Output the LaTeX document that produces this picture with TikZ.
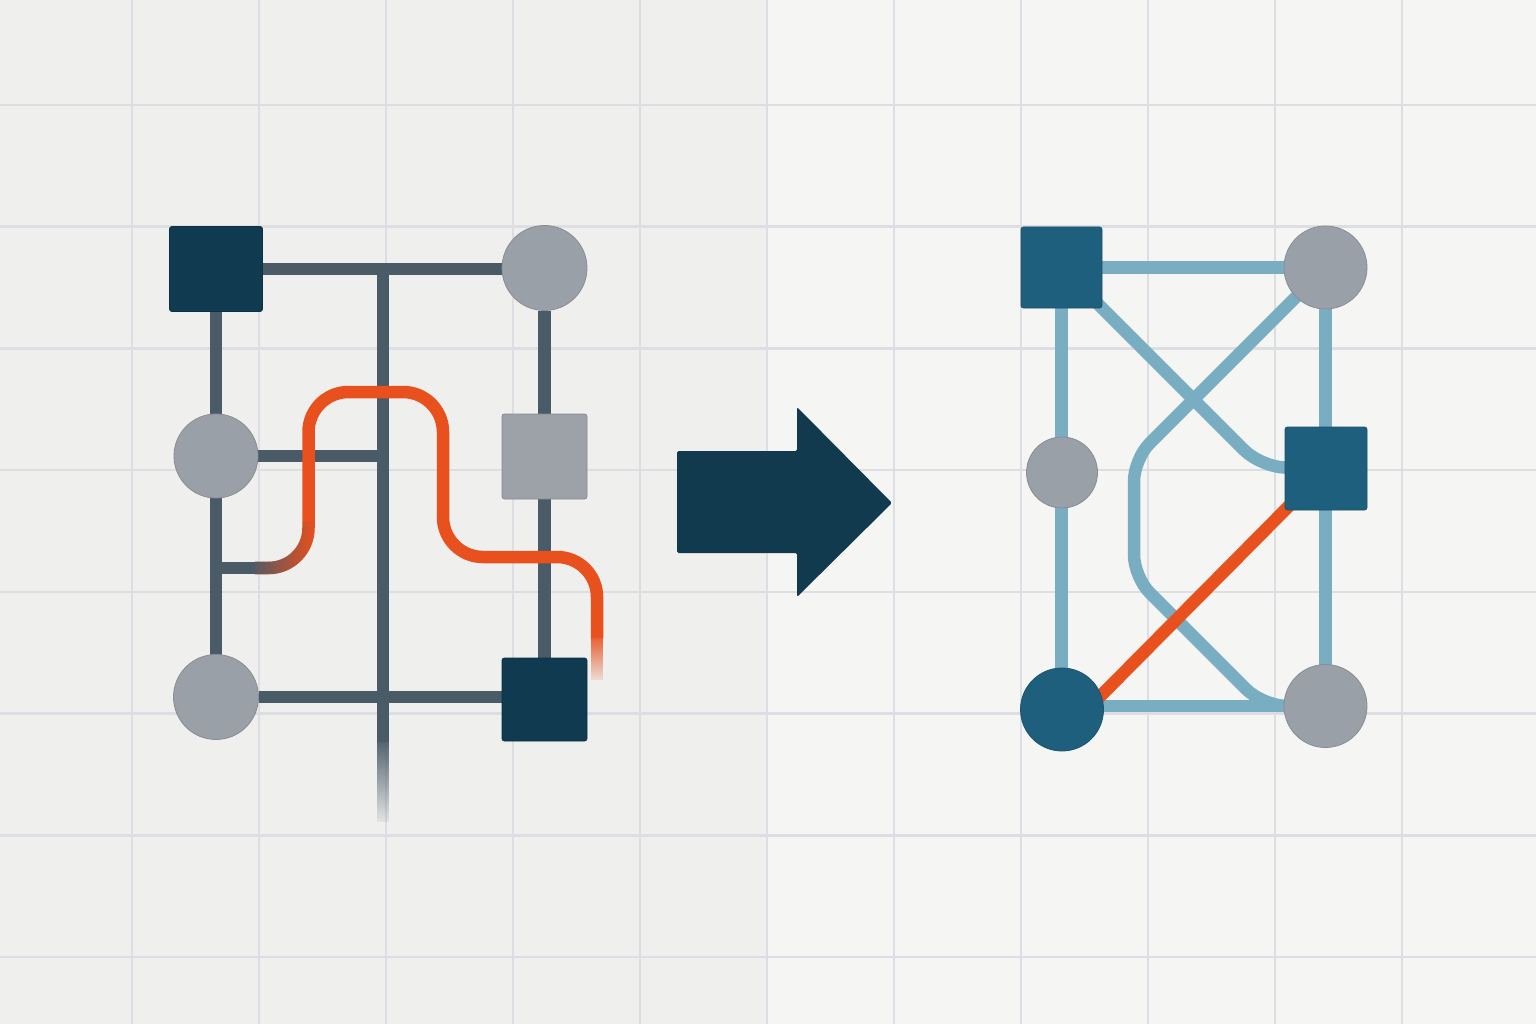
\documentclass[tikz,border=0pt]{standalone}
\usetikzlibrary{fadings}
\definecolor{bgL}{HTML}{EFEFEE}
\definecolor{bgR}{HTML}{F5F5F3}
\definecolor{gridc}{HTML}{DCDEE3}
\definecolor{slate}{HTML}{4A5B68}
\definecolor{navy}{HTML}{0F3A4F}
\definecolor{grayc}{HTML}{9AA0A7}
\definecolor{grayq}{HTML}{9DA2A8}
\definecolor{tealc}{HTML}{1F5F7E}
\definecolor{lblue}{HTML}{79AEC2}
\definecolor{orangec}{HTML}{E8501E}
\definecolor{arrowc}{HTML}{113A4F}
\tikzfading[name=fadeR, left color=transparent!0, right color=transparent!100]
\tikzfading[name=fadeD, top color=transparent!0, bottom color=transparent!100]
\pgfdeclarelayer{back}
\pgfdeclarelayer{wires}
\pgfsetlayers{back,wires,main}
\begin{document}
\begin{tikzpicture}[x=1pt,y=-1pt,
  sq/.style={rectangle, rounded corners=2.5pt, inner sep=0pt, draw=#1!85!black, line width=0.8pt, fill=#1},
  dot/.style={circle, inner sep=0pt, draw=#1!88!black, line width=0.8pt, fill=#1},
  wire/.style={line width=12.5pt},
  gridline/.style={gridc, line width=2.6pt}]
\useasboundingbox (0,0) rectangle (1536,1024);
\begin{pgfonlayer}{back}
  \fill[bgL] (0,0) rectangle (767,1024);
  \fill[bgR] (767,0) rectangle (1536,1024);
  \foreach \i in {0,...,10} \draw[gridline] (132+127*\i,0) -- (132+127*\i,1024);
  \foreach \j in {0,...,7} \draw[gridline] (0,105+121.7*\j) -- (1536,105+121.7*\j);
\end{pgfonlayer}

% ---------- left network ----------
\node[sq=navy, minimum width=93pt, minimum height=85pt] (L1) at (216,269) {};
\node[dot=grayc, minimum size=85pt] (L2) at (544.5,268) {};
\node[dot=grayc, minimum size=84pt] (L3) at (216,456) {};
\node[sq=grayq, minimum size=85pt] (L4) at (544.5,456.5) {};
\node[dot=grayc, minimum size=85pt] (L5) at (216,697) {};
\node[sq=navy, minimum width=85pt, minimum height=83pt] (L6) at (544.5,699.5) {};

\coordinate (ctop) at (383,269);
\coordinate (cfade) at (383,742);
\coordinate (cend) at (383,822);
\coordinate (s0) at (216,568);
\coordinate (s1) at (255,568);
\coordinate (oA) at (308.5,568);
\coordinate (oB) at (308.5,392);
\coordinate (oC) at (443,392);
\coordinate (oD) at (443,557);
\coordinate (oE) at (597,557);
\coordinate (oF) at (597,638);
\coordinate (oG) at (597,680);

\begin{pgfonlayer}{wires}
  \draw[wire, slate] (L1) -- (L1 -| L2);
  \draw[wire, slate] (L1) -- (L1 |- L5);
  \draw[wire, slate] (L2) -- (L2 |- L6);
  \draw[wire, slate] (L3) -- (L3 -| ctop);
  \draw[wire, slate] (L5) -- (L5 -| L6);
  \draw[wire, slate] (ctop) -- (cfade);
  \draw[wire, slate, path fading=fadeD] (cfade) -- (cend);
  \draw[wire, slate] (s0) -- (s1);
  \draw[wire, orangec, rounded corners=40pt] (s1) -- (oA) -- (oB) -- (oC) -- (oD) -- (oE) -- (oF);
  \draw[wire, slate, rounded corners=40pt, path fading=fadeR] (s1) -- (oA) -- (308.5,522);
  \draw[wire, orangec, path fading=fadeD] (oF) -- (oG);
\end{pgfonlayer}

% ---------- arrow ----------
\fill[arrowc, rounded corners=1.5pt] (677,451) -- (797,451) -- (797,407) -- (892,503) -- (797,597) -- (797,553) -- (677,553) -- cycle;

% ---------- right network ----------
\node[sq=tealc, minimum size=81pt] (R1) at (1061.5,267.5) {};
\node[dot=grayc, minimum size=83pt] (R2) at (1325.5,267.5) {};
\node[dot=grayc, minimum size=71pt] (R3) at (1062,472.5) {};
\node[sq=tealc, minimum width=82pt, minimum height=83pt] (R4) at (1326,468.5) {};
\node[dot=tealc, minimum size=83pt] (R5) at (1062,709.5) {};
\node[dot=grayc, minimum size=83pt] (R6) at (1325.5,706) {};

\coordinate (d1) at (1261,467);
\coordinate (d2) at (1134,459);
\coordinate (d3) at (1134,577);
\coordinate (d4) at (1263,706);

\begin{pgfonlayer}{wires}
  \draw[wire, lblue] (R1) -- (R2);
  \draw[wire, lblue] (R1) -- (R1 |- R5);
  \draw[wire, lblue] (R2) -- (R2 |- R6);
  \draw[wire, lblue] (R6) -- (R6 -| R5);
  \draw[wire, lblue, rounded corners=24pt, shorten <=-12pt] (R1) -- (d1) -- (R4);
  \draw[wire, lblue, rounded corners=22pt, shorten <=-6pt] (R2) -- (d2) -- (d3) [rounded corners=24pt] -- (d4) -- (R6);
  \draw[wire, orangec, shorten <=-8pt, shorten >=-8pt] (R5.20) -- (R4.south west);
\end{pgfonlayer}
\end{tikzpicture}
\end{document}
